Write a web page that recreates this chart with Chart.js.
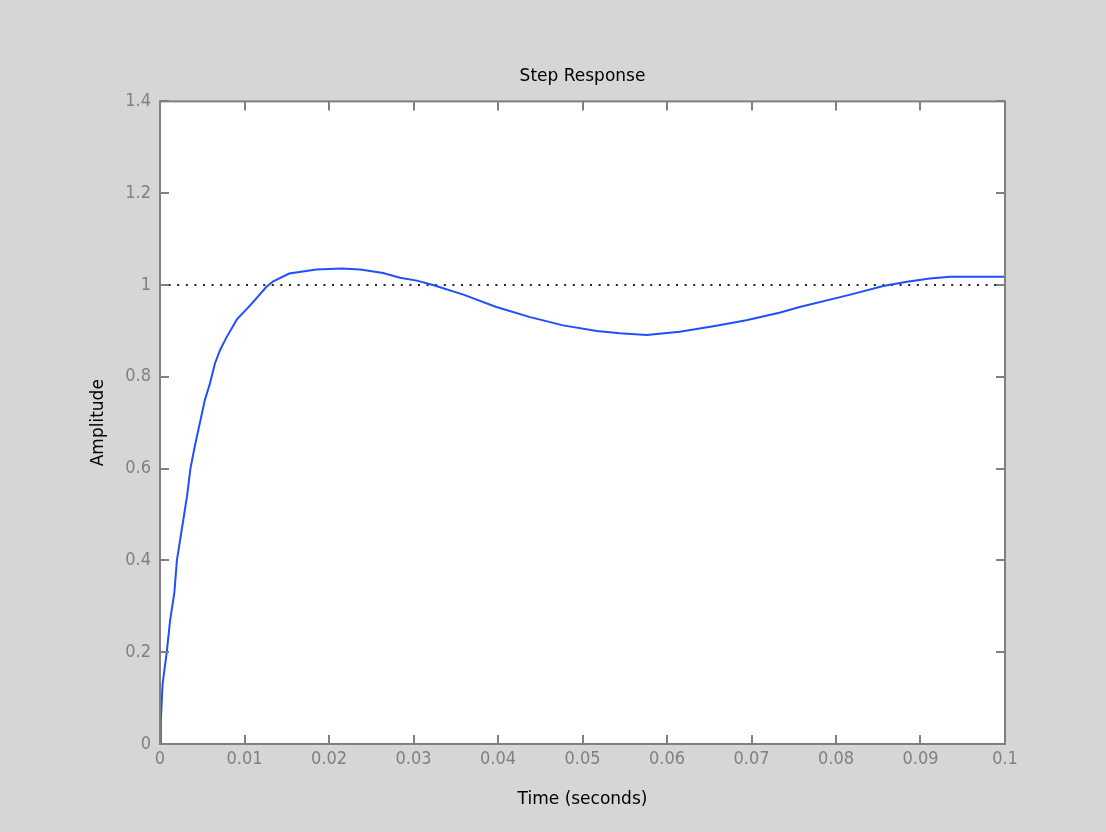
<!DOCTYPE html>
<html>
<head>
<meta charset="utf-8">
<title>Step Response</title>
<script src="https://cdn.jsdelivr.net/npm/chart.js@4/dist/chart.umd.min.js"></script>
<style>
  body { margin: 0; background: #d6d6d6; }
  #box { width: 1106px; height: 832px; }
</style>
</head>
<body>
<div id="box"><canvas id="stepChart" width="1106" height="832"></canvas></div>
<script>
// ===== Data =====
const timeValues = [0, 0.0001, 0.0003, 0.0008, 0.0012, 0.0017, 0.002, 0.0026, 0.0032, 0.0036,
  0.0041, 0.0047, 0.0053, 0.0059, 0.0065, 0.0071, 0.0079, 0.0091, 0.0107, 0.0126,
  0.0134, 0.0153, 0.0185, 0.0215, 0.0237, 0.0264, 0.0284, 0.0304, 0.0323, 0.0359,
  0.0398, 0.0438, 0.0477, 0.0517, 0.0544, 0.0576, 0.0615, 0.0655, 0.0694, 0.0734,
  0.0757, 0.0817, 0.0856, 0.0884, 0.0911, 0.0935, 0.1];
const amplitudeValues = [0, 0.05, 0.13, 0.2, 0.27, 0.33, 0.40, 0.47, 0.54, 0.60,
  0.647, 0.698, 0.749, 0.785, 0.829, 0.858, 0.887, 0.925, 0.956, 0.996,
  1.008, 1.025, 1.034, 1.036, 1.034, 1.026, 1.016, 1.0095, 1.0, 0.979,
  0.952, 0.930, 0.912, 0.900, 0.895, 0.891, 0.898, 0.910, 0.923, 0.940,
  0.952, 0.979, 0.998, 1.007, 1.014, 1.018, 1.018];
const refTime = [0, 0.1];
const refValues = [1, 1];
const xTickLabels = ['0', '0.01', '0.02', '0.03', '0.04', '0.05', '0.06', '0.07', '0.08', '0.09', '0.1'];
const yTickLabels = ['0', '0.2', '0.4', '0.6', '0.8', '1', '1.2', '1.4'];

const axisGray = '#808080';
const tickFont = { family: '"DejaVu Sans Condensed", "DejaVu Sans", sans-serif', size: 18 };
const labelFont = { family: '"DejaVu Sans", sans-serif', size: 17, lineHeight: 1.2 };

// white plot area + box with inward ticks on all sides
const matlabAxes = {
  id: 'matlabAxes',
  beforeDraw(chart) {
    const a = chart.chartArea, ctx = chart.ctx;
    ctx.save();
    ctx.fillStyle = '#ffffff';
    ctx.fillRect(a.left, a.top, a.right - a.left, a.bottom - a.top);
    ctx.restore();
  },
  afterDraw(chart) {
    const a = chart.chartArea, ctx = chart.ctx;
    const xs = chart.scales.x, ys = chart.scales.y;
    const len = 9;
    ctx.save();
    ctx.strokeStyle = axisGray;
    ctx.lineWidth = 2;
    ctx.strokeRect(a.left, a.top, a.right - a.left, a.bottom - a.top);
    ctx.beginPath();
    xs.ticks.forEach(t => {
      const px = Math.round(xs.getPixelForValue(t.value));
      ctx.moveTo(px, a.bottom); ctx.lineTo(px, a.bottom - len);
      ctx.moveTo(px, a.top); ctx.lineTo(px, a.top + len);
    });
    ys.ticks.forEach(t => {
      const py = Math.round(ys.getPixelForValue(t.value));
      ctx.moveTo(a.left, py); ctx.lineTo(a.left + len, py);
      ctx.moveTo(a.right, py); ctx.lineTo(a.right - len, py);
    });
    ctx.stroke();
    ctx.restore();
  }
};

new Chart(document.getElementById('stepChart'), {
  type: 'line',
  data: {
    datasets: [{
      label: 'Step',
      data: timeValues.map((t, i) => ({ x: t, y: amplitudeValues[i] })),
      borderColor: '#1f4fff',
      borderWidth: 2,
      pointRadius: 0,
      tension: 0,
      order: 0
    }, {
      label: 'Final value',
      data: refTime.map((t, i) => ({ x: t, y: refValues[i] })),
      borderColor: '#222222',
      borderWidth: 2,
      borderDash: [2, 6.6],
      pointRadius: 0,
      order: 1
    }]
  },
  options: {
    responsive: false,
    animation: false,
    devicePixelRatio: 1,
    layout: { padding: { left: 0, right: 101, top: 0, bottom: 0 } },
    plugins: {
      legend: { display: false },
      tooltip: { enabled: false },
      title: {
        display: true,
        fullSize: false,
        text: 'Step Response',
        color: '#000000',
        font: { ...labelFont, weight: 'normal' },
        padding: { top: 66, bottom: 15 }
      }
    },
    scales: {
      x: {
        type: 'linear',
        min: 0, max: 0.1,
        grid: { display: false, drawTicks: false },
        border: { display: false },
        ticks: {
          stepSize: 0.01,
          color: axisGray,
          font: tickFont,
          padding: 5,
          maxRotation: 0,
          callback: (v, i) => xTickLabels[i]
        },
        title: {
          display: true,
          text: 'Time (seconds)',
          color: '#000000',
          font: labelFont,
          padding: { top: 0, bottom: 22 }
        },
        afterFit: s => { s.height = 88; }
      },
      y: {
        min: 0, max: 1.4,
        grid: { display: false, drawTicks: false },
        border: { display: false },
        ticks: {
          stepSize: 0.2,
          color: axisGray,
          font: tickFont,
          padding: 9,
          callback: (v, i) => yTickLabels[i]
        },
        title: {
          display: true,
          text: 'Amplitude',
          color: '#000000',
          font: labelFont,
          padding: { top: 88, bottom: 0 }
        },
        afterFit: s => { s.width = 160; }
      }
    }
  },
  plugins: [matlabAxes]
});
</script>
</body>
</html>
